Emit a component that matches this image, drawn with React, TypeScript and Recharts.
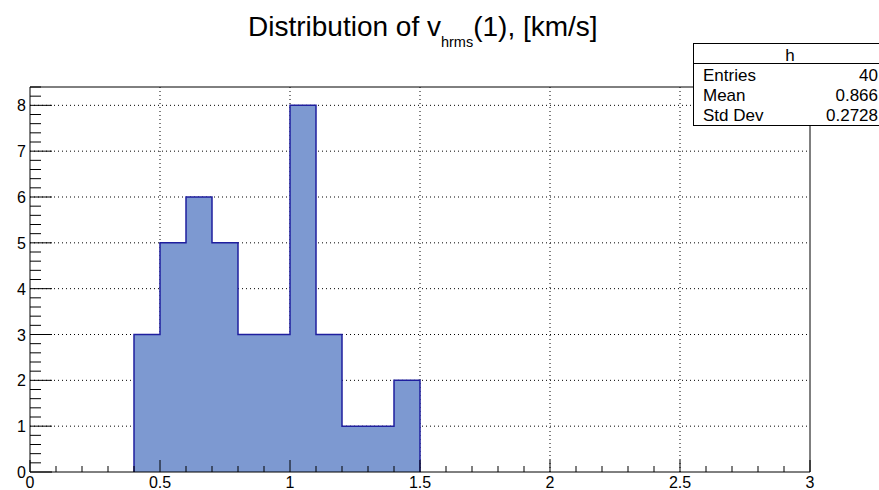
import React from 'react';
import { ComposedChart, Area, XAxis, YAxis, CartesianGrid, ReferenceArea } from 'recharts';

// histogram h: bin edges and entries per bin
const BIN_EDGES = [0.4, 0.5, 0.6, 0.7, 0.8, 0.9, 1.0, 1.1, 1.2, 1.3, 1.4, 1.5];
const COUNTS = [3, 5, 6, 5, 3, 3, 8, 3, 1, 1, 2];

const X_MAJOR = [0, 0.5, 1, 1.5, 2, 2.5, 3];
const X_LABELS = ['0', '0.5', '1', '1.5', '2', '2.5', '3'];
const Y_MAJOR = [0, 1, 2, 3, 4, 5, 6, 7, 8];
const Y_MAX = 8.4;

const STATS_NAMES = ['Entries', 'Mean', 'Std Dev'];
const STATS_VALUES = ['40', '0.866', '0.2728'];

const FONT = '"Liberation Sans", Arial, Helvetica, sans-serif';
const FILL = '#7d99d1';
const LINE = '#1f1f9e';

// step outline points (stepAfter)
const points = [
  { x: BIN_EDGES[0], y: 0 },
  ...COUNTS.map((c, i) => ({ x: BIN_EDGES[i], y: c })),
  { x: BIN_EDGES[BIN_EDGES.length - 1], y: COUNTS[COUNTS.length - 1] },
  { x: BIN_EDGES[BIN_EDGES.length - 1], y: 0 },
];

// minor ticks every 0.1 on x, 0.2 on y
const xTicks = Array.from({ length: 31 }, (_, i) => i / 10);
const yTicks = Array.from({ length: 43 }, (_, i) => (i * 2) / 10);

const isNear = (a: number, b: number) => Math.abs(a - b) < 1e-6;

function XTick(props: any) {
  const { x, y, payload } = props;
  const idx = X_MAJOR.findIndex((m) => isNear(m, payload.value));
  const major = idx >= 0;
  return (
    <g>
      <line x1={x} x2={x} y1={y} y2={y - (major ? 12 : 6)} stroke="#000" strokeWidth={1} />
      {major && (
        <text x={x} y={y + 16} textAnchor="middle" fontFamily={FONT} fontSize={16} fill="#000">
          {X_LABELS[idx]}
        </text>
      )}
    </g>
  );
}

function YTick(props: any) {
  const { x, y, payload } = props;
  const idx = Y_MAJOR.findIndex((m) => isNear(m, payload.value));
  const major = idx >= 0;
  return (
    <g>
      <line x1={x} x2={x + (major ? 22 : 11)} y1={y} y2={y} stroke="#000" strokeWidth={1} />
      {major && (
        <text x={x - 4} y={y + 6} textAnchor="end" fontFamily={FONT} fontSize={16} fill="#000">
          {Y_MAJOR[idx]}
        </text>
      )}
    </g>
  );
}

export default function App() {
  return (
    <div style={{ position: 'absolute', left: 0, top: 0, width: 879, height: 490, overflow: 'hidden', background: '#fff' }}>
      <ComposedChart width={879} height={490} data={points} margin={{ top: 87, right: 69, bottom: 0, left: 0 }}>
        <CartesianGrid
          horizontalValues={Y_MAJOR.slice(1)}
          verticalValues={X_MAJOR.slice(1, -1)}
          stroke="#000"
          strokeDasharray="1 3"
        />
        <XAxis
          dataKey="x"
          type="number"
          domain={[0, 3]}
          ticks={xTicks}
          interval={0}
          height={18}
          tickSize={0}
          tickMargin={0}
          tickLine={false}
          axisLine={false}
          tick={<XTick />}
          allowDataOverflow
        />
        <YAxis
          type="number"
          domain={[0, Y_MAX]}
          ticks={yTicks}
          interval={0}
          width={30}
          tickSize={0}
          tickMargin={0}
          tickLine={false}
          axisLine={false}
          tick={<YTick />}
          allowDataOverflow
        />
        <Area
          type="stepAfter"
          dataKey="y"
          baseValue={0}
          fill={FILL}
          fillOpacity={1}
          stroke={LINE}
          strokeWidth={1.5}
          dot={false}
          activeDot={false}
          isAnimationActive={false}
        />
        <ReferenceArea x1={0} x2={3} y1={0} y2={Y_MAX} fill="none" stroke="#000" strokeWidth={1} />
      </ComposedChart>

      {/* title and stats box */}
      <svg width={879} height={490} style={{ position: 'absolute', left: 0, top: 0, pointerEvents: 'none' }}>
        <text x={248} y={36} fontFamily={FONT} fontSize={28} fill="#000">
          Distribution of v
          <tspan fontSize={14.5} dy={11}>hrms</tspan>
          <tspan dy={-11}>(1), [km/s]</tspan>
        </text>
        <rect x={693.5} y={43.5} width={200} height={82} fill="#fff" stroke="#000" strokeWidth={1} />
        <line x1={693.5} x2={879} y1={63.5} y2={63.5} stroke="#000" strokeWidth={1} />
        <text x={790} y={61} textAnchor="middle" fontFamily={FONT} fontSize={17} fill="#000">h</text>
        {STATS_NAMES.map((name, i) => (
          <text key={name} x={703} y={81 + i * 20} fontFamily={FONT} fontSize={17} fill="#000">{name}</text>
        ))}
        {STATS_VALUES.map((v, i) => (
          <text key={i} x={878} y={81 + i * 20} textAnchor="end" fontFamily={FONT} fontSize={17} fill="#000">{v}</text>
        ))}
      </svg>
    </div>
  );
}
